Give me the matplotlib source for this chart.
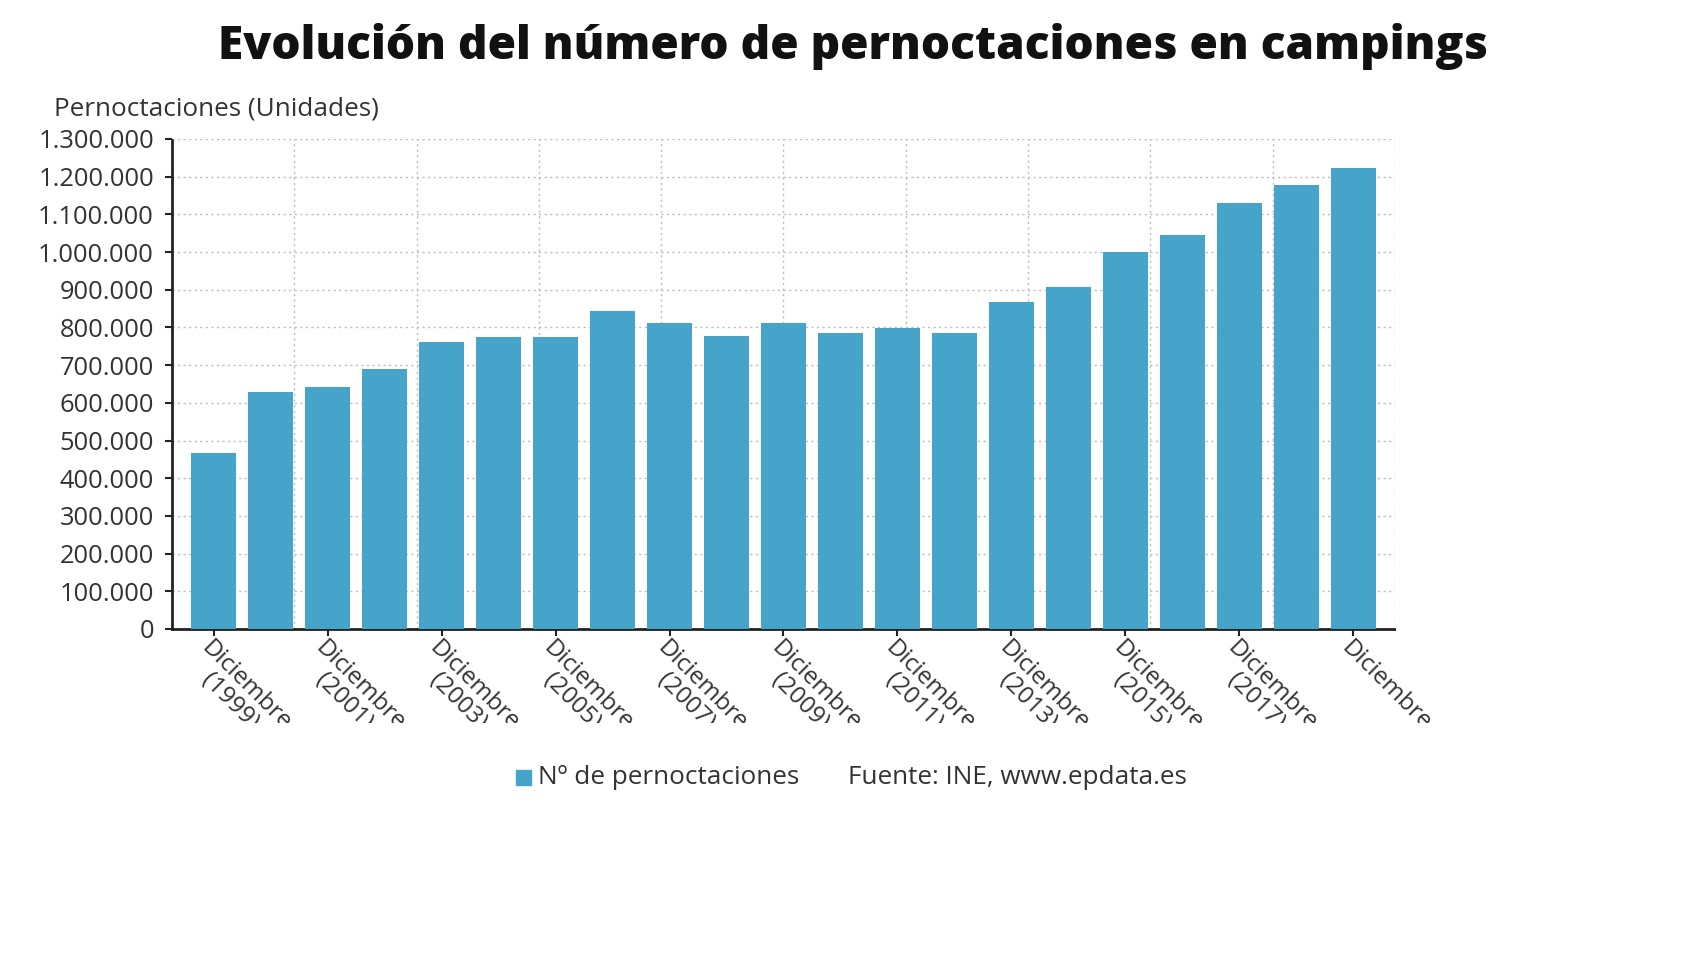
import matplotlib.pyplot as plt
import numpy as np
from matplotlib.ticker import FuncFormatter, MultipleLocator
from matplotlib.transforms import Bbox, TransformedBbox

plt.rcParams["font.family"] = ["Open Sans", "DejaVu Sans"]

years = list(range(1999, 2020))
pernoctaciones = [468000, 628000, 643000, 689000, 761000, 776000, 776000,
                  845000, 812000, 777000, 811000, 786000, 798000, 784000,
                  868000, 908000, 999000, 1045000, 1129000, 1179000, 1224000]
tick_years = [1999, 2001, 2003, 2005, 2007, 2009, 2011, 2013, 2015, 2017, 2019]
tick_labels = ["Diciembre\n(1999)", "Diciembre\n(2001)", "Diciembre\n(2003)",
               "Diciembre\n(2005)", "Diciembre\n(2007)", "Diciembre\n(2009)",
               "Diciembre\n(2011)", "Diciembre\n(2013)", "Diciembre\n(2015)",
               "Diciembre\n(2017)", "Diciembre"]

BAR_COLOR = "#46a3c9"
TEXT_COLOR = "#333333"

fig = plt.figure(figsize=(17.06, 9.6), dpi=100)
ax = fig.add_axes([172 / 1706, 1 - 629 / 960, (1395 - 172) / 1706, (629 - 139) / 960])

x = np.arange(len(years))
ax.bar(x, pernoctaciones, width=0.78, color=BAR_COLOR, zorder=3)

ax.set_xlim(-0.73, len(years) - 1 + 0.73)
ax.set_ylim(0, 1300000)
ax.yaxis.set_major_locator(MultipleLocator(100000))
ax.yaxis.set_major_formatter(FuncFormatter(lambda v, p: f"{int(v):,}".replace(",", ".")))

# horizontal grid + vertical grid split in 10 equal parts
ax.grid(axis="y", linestyle=(0, (1.5, 2.5)), color="#bbbbbb", linewidth=1, zorder=0)
xl = ax.get_xlim()
ax.vlines(np.linspace(xl[0], xl[1], 11)[1:], 0, 1, transform=ax.get_xaxis_transform(),
          linestyles=(0, (1.5, 2.5)), colors="#bbbbbb", linewidth=1, zorder=0)

tick_pos = [years.index(y) for y in tick_years]
ax.set_xticks(tick_pos)
ax.set_xticklabels(tick_labels, rotation=-45, ha="left", va="top",
                   rotation_mode="anchor", fontsize=17.5, color=TEXT_COLOR,
                   linespacing=0.95, multialignment="center")
ax.tick_params(axis="x", length=5, width=1.5, color="#222222", pad=0)
ax.tick_params(axis="y", length=5, width=1.5, color="#222222", pad=8,
               labelsize=18.4, labelcolor=TEXT_COLOR)

for s in ["top", "right"]:
    ax.spines[s].set_visible(False)
for s in ["left", "bottom"]:
    ax.spines[s].set_linestyle((0, (2, 1)))
    ax.spines[s].set_linewidth(2)
    ax.spines[s].set_color("#222222")

# labels are cut off at the bottom in the original
clip = TransformedBbox(Bbox([[0, 237 / 960], [1, 1]]), fig.transFigure)
for lbl in ax.get_xticklabels():
    lbl.set_clip_box(clip)
    lbl.set_clip_on(True)

fig.text(0.5, 1 - 46 / 960, "Evolución del número de pernoctaciones en campings",
         ha="center", va="center", fontsize=33.1, fontweight=800, color="#111111")
fig.text(54 / 1706, 1 - 109 / 960, "Pernoctaciones (Unidades)", ha="left", va="center",
         fontsize=18.8, color=TEXT_COLOR)

# legend row
fig.patches.append(plt.Rectangle((516 / 1706, 1 - 785 / 960), 15 / 1706, 15 / 960,
                                 transform=fig.transFigure, color=BAR_COLOR))
fig.text(538 / 1706, 1 - 777 / 960, "Nº de pernoctaciones", ha="left", va="center",
         fontsize=18.8, color=TEXT_COLOR)
fig.text(848 / 1706, 1 - 777 / 960, "Fuente: INE, www.epdata.es", ha="left", va="center",
         fontsize=18.8, color=TEXT_COLOR)

fig.savefig("out.png", dpi=100)
